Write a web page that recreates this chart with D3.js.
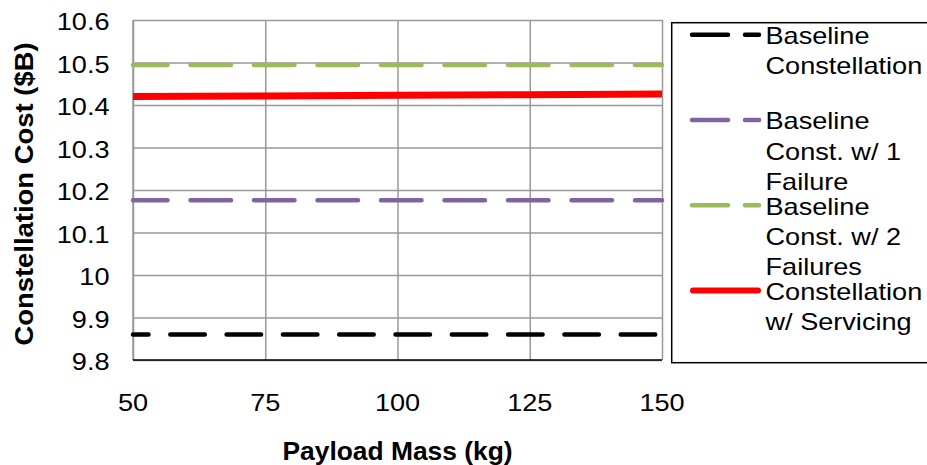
<!DOCTYPE html>
<html>
<head>
  <meta charset="utf-8">
  <title>Constellation cost vs payload mass</title>
  <style>
    body { margin: 0; background: #fff; }
    text { font-family: "Liberation Sans", Arial, sans-serif; fill: #000; }
  </style>
</head>
<body>
  <svg width="927" height="465"></svg>
  <script src="https://cdn.jsdelivr.net/npm/d3@7"></script>
  <script>
  // data
  var payload = [50, 75, 100, 125, 150];
  var baseline = [9.86, 9.86, 9.86, 9.86, 9.86];
  var oneFailure = [10.176, 10.176, 10.176, 10.176, 10.176];
  var twoFailures = [10.494, 10.494, 10.494, 10.494, 10.494];
  var servicing = [10.420, 10.421, 10.423, 10.424, 10.426];

  var xTicks = [50, 75, 100, 125, 150];
  var yTicks = [9.8, 9.9, 10, 10.1, 10.2, 10.3, 10.4, 10.5, 10.6];
  var yTickLabels = ["9.8", "9.9", "10", "10.1", "10.2", "10.3", "10.4", "10.5", "10.6"];

  var legendNames = [
    ["Baseline", "Constellation"],
    ["Baseline", "Const. w/ 1", "Failure"],
    ["Baseline", "Const. w/ 2", "Failures"],
    ["Constellation", "w/ Servicing"]
  ];

  var series = [
    { values: baseline, color: "#000000", width: 4.5, dash: "34.5,21.8", offset: 19, legDash: "36,17" },
    { values: oneFailure, color: "#8064a2", width: 4.5, dash: "40.5,23", offset: 6, legDash: "36,17" },
    { values: twoFailures, color: "#9bbb59", width: 4.5, dash: "40.5,23", offset: 6, legDash: "36,17" },
    { values: servicing, color: "#ff0000", width: 7, dash: null, offset: 0, legDash: null }
  ];

  var svg = d3.select("svg");
  var plotL = 133, plotR = 662, plotT = 20, plotB = 360;
  var sx = 1.13; // the picture's text is a little wider than the font

  var x = d3.scaleLinear().domain([50, 150]).range([plotL, plotR]);
  var y = d3.scaleLinear().domain([9.8, 10.6]).range([plotB, plotT]);

  // grid
  svg.append("g")
    .attr("transform", "translate(0," + plotB + ")")
    .call(d3.axisBottom(x).tickValues(xTicks).tickSize(-(plotB - plotT)).tickFormat(""))
    .call(function(g) { g.select(".domain").remove(); })
    .selectAll("line").attr("stroke", "#999").attr("stroke-width", 1.5);

  svg.append("g")
    .attr("transform", "translate(" + plotL + ",0)")
    .call(d3.axisLeft(y).tickValues(yTicks).tickSize(-(plotR - plotL)).tickFormat(""))
    .call(function(g) { g.select(".domain").remove(); })
    .selectAll("line").attr("stroke", "#999").attr("stroke-width", 1.5);

  // left axis (grey)
  svg.append("line").attr("x1", plotL).attr("x2", plotL).attr("y1", plotT).attr("y2", plotB)
    .attr("stroke", "#999").attr("stroke-width", 1.5);

  // series
  var line = d3.line()
    .x(function(d, i) { return x(payload[i]); })
    .y(function(d) { return y(d); });

  series.forEach(function(s) {
    svg.append("path")
      .attr("d", line(s.values))
      .attr("fill", "none")
      .attr("stroke", s.color)
      .attr("stroke-width", s.width)
      .attr("stroke-linecap", s.dash ? "round" : "butt")
      .attr("stroke-dasharray", s.dash)
      .attr("stroke-dashoffset", s.offset);
  });

  // bottom axis (black)
  svg.append("line").attr("x1", plotL).attr("x2", plotR).attr("y1", plotB).attr("y2", plotB)
    .attr("stroke", "#000").attr("stroke-width", 1.5);

  // text helper: horizontally stretched text
  function stretched(px, py, str, size, scale, anchor, weight) {
    return svg.append("g")
      .attr("transform", "translate(" + px + "," + py + ") scale(" + scale + ",1)")
      .append("text")
      .attr("text-anchor", anchor)
      .style("font-size", size + "px")
      .style("font-weight", weight || "normal")
      .text(str);
  }

  // tick labels
  yTicks.forEach(function(v, i) {
    stretched(109.5, y(v) + 10, yTickLabels[i], 24, sx, "end");
  });
  xTicks.forEach(function(v) {
    stretched(x(v), 411, String(v), 24, sx, "middle");
  });

  // axis titles
  stretched((plotL + plotR) / 2, 460, "Payload Mass (kg)", 25, 1.055, "middle", "bold");
  svg.append("g")
    .attr("transform", "translate(33,194) rotate(-90) scale(1.055,1)")
    .append("text")
    .attr("text-anchor", "middle")
    .style("font-size", "26px")
    .style("font-weight", "bold")
    .text("Constellation Cost ($B)");

  // legend
  svg.append("rect")
    .attr("x", 671.7).attr("y", 22.7)
    .attr("width", 300).attr("height", 340)
    .attr("fill", "#fff").attr("stroke", "#000").attr("stroke-width", 1.5);

  series.forEach(function(s, i) {
    var ly = 34.7 + i * 85.3;
    svg.append("line")
      .attr("x1", s.dash ? 692 : 693).attr("x2", s.dash ? 759 : 758)
      .attr("y1", ly).attr("y2", ly)
      .attr("stroke", s.color)
      .attr("stroke-width", s.dash ? s.width : 6)
      .attr("stroke-linecap", "round")
      .attr("stroke-dasharray", s.legDash);
    legendNames[i].forEach(function(t, j) {
      stretched(765.5, ly + 9.3 + j * 30.3, t, 24, sx, "start");
    });
  });
  </script>
</body>
</html>
